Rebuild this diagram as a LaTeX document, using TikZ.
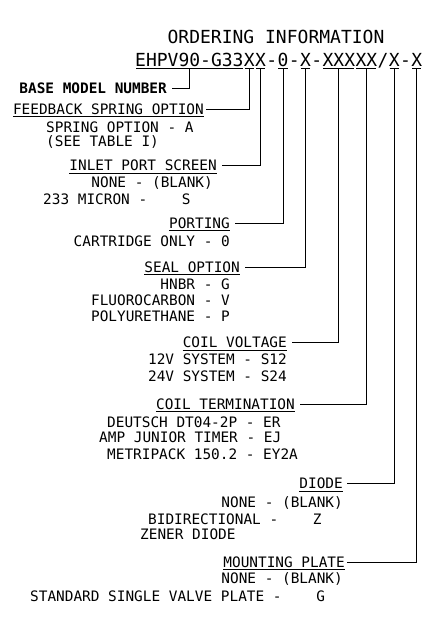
\documentclass[tikz,border=0pt]{standalone}
\usepackage{fontspec}
\setmainfont{DejaVu Sans Mono}
\usepackage{tikz}
\usetikzlibrary{positioning}

\begin{document}
\begin{tikzpicture}[
        x=1pt, y=-1pt,
        font=\fontsize{14.4}{16}\selectfont,
        code/.style={inner sep=0pt, text height=15.6pt, text depth=2.5pt, font=\fontsize{18}{20}\selectfont},
        head/.style={inner sep=0pt, text height=12.5pt, text depth=2pt, anchor=east},
        opt/.style={inner sep=0pt},
        lead/.style={line width=0.9pt},
        uline/.style={line width=0.9pt, shorten <=1pt, shorten >=1pt}
    ]
        \useasboundingbox (0,0) rectangle (439,632);

        \node[opt, anchor=base, font=\fontsize{18}{20}\selectfont] (title) at (276,43) {ORDERING~INFORMATION};

        % model number, one node per field
        \node[code, anchor=base west] (m0) at (135,66) {EHPV90-G33};
        \node[code, right=0pt of m0] (m1) {X};
        \node[code, right=0pt of m1] (m2) {X};
        \node[code, right=0pt of m2] (s1) {-};
        \node[code, right=0pt of s1] (m3) {0};
        \node[code, right=0pt of m3] (s2) {-};
        \node[code, right=0pt of s2] (m4) {X};
        \node[code, right=0pt of m4] (s3) {-};
        \node[code, right=0pt of s3] (m5) {XXX};
        \node[code, right=0pt of m5] (m6) {XX};
        \node[code, right=0pt of m6] (s4) {/};
        \node[code, right=0pt of s4] (m7) {X};
        \node[code, right=0pt of m7] (s5) {-};
        \node[code, right=0pt of s5] (m8) {X};

        \draw[uline] (m0.south west) -- (m0.south east);
        \draw[uline] (m1.south west) -- (m1.south east);
        \draw[uline] (m2.south west) -- (m2.south east);
        \draw[uline] (m3.south west) -- (m3.south east);
        \draw[uline] (m4.south west) -- (m4.south east);
        \draw[uline] (m5.south west) -- (m5.south east);
        \draw[uline] (m6.south west) -- (m6.south east);
        \draw[uline] (m7.south west) -- (m7.south east);
        \draw[uline] (m8.south west) -- (m8.south east);

        % field headings
        \node[head, font=\fontsize{14.4}{16}\selectfont\bfseries] (base) at (167,88) {BASE~MODEL~NUMBER};
        \node[head] (fb) at (204,109) {FEEDBACK~SPRING~OPTION};
        \node[head] (ips) at (217,165.5) {INLET~PORT~SCREEN};
        \node[head] (port) at (230,223) {PORTING};
        \node[head] (seal) at (240,267) {SEAL~OPTION};
        \node[head] (cv) at (287,342.5) {COIL~VOLTAGE};
        \node[head] (ct) at (295,404) {COIL~TERMINATION};
        \node[head] (dio) at (343,483.5) {DIODE};
        \node[head] (mp) at (345,562) {MOUNTING~PLATE};

        \draw[lead] (fb.south west) -- (fb.south east);
        \draw[lead] (ips.south west) -- (ips.south east);
        \draw[lead] (port.south west) -- (port.south east);
        \draw[lead] (seal.south west) -- (seal.south east);
        \draw[lead] (cv.south west) -- (cv.south east);
        \draw[lead] (ct.south west) -- (ct.south east);
        \draw[lead] (dio.south west) -- (dio.south east);
        \draw[lead] (mp.south west) -- (mp.south east);

        % options
        \node[opt, anchor=base west] (fb1) at (46,132.2) {SPRING~OPTION~-~A};
        \node[opt, anchor=base west] (fb2) at (46,146.2) {(SEE~TABLE~I)};
        \node[opt, anchor=base east] (ips1) at (213,187.2) {NONE~-~(BLANK)};
        \node[opt, anchor=base west] (ips2) at (43,204.2) {233~MICRON~-~~~~S};
        \node[opt, anchor=base east] (port1) at (230,246) {CARTRIDGE~ONLY~-~0};
        \node[opt, anchor=base east] (seal1) at (230,289.2) {HNBR~-~G};
        \node[opt, anchor=base east] (seal2) at (230,305.2) {FLUOROCARBON~-~V};
        \node[opt, anchor=base east] (seal3) at (230,321.2) {POLYURETHANE~-~P};
        \node[opt, anchor=base east] (cv1) at (287,364.8) {12V~SYSTEM~-~S12};
        \node[opt, anchor=base east] (cv2) at (287,381.2) {24V~SYSTEM~-~S24};
        \node[opt, anchor=base west] (ct1) at (107,427.8) {DEUTSCH~DT04-2P~-~ER};
        \node[opt, anchor=base west] (ct2) at (99,442.8) {AMP~JUNIOR~TIMER~-~EJ};
        \node[opt, anchor=base west] (ct3) at (107,459.2) {METRIPACK~150.2~-~EY2A};
        \node[opt, anchor=base east] (dio1) at (343,507.2) {NONE~-~(BLANK)};
        \node[opt, anchor=base west] (dio2) at (148,524.2) {BIDIRECTIONAL~-~~~~Z};
        \node[opt, anchor=base west] (dio3) at (140,539.2) {ZENER~DIODE};
        \node[opt, anchor=base east] (mp1) at (343,583.2) {NONE~-~(BLANK)};
        \node[opt, anchor=base west] (mp2) at (30,601.2) {STANDARD~SINGLE~VALVE~PLATE~-~~~~G};

        % leaders up to the model number
        \draw[lead] ([xshift=5pt]base.east) -| (m0.south);
        \draw[lead] ([xshift=2pt]fb.east) -| (m1.south);
        \draw[lead] ([xshift=5pt]ips.east) -| (m2.south);
        \draw[lead] ([xshift=5pt]port.east) -| (m3.south);
        \draw[lead] ([xshift=5pt]seal.east) -| (m4.south);
        \draw[lead] ([xshift=5pt]cv.east) -| (m5.south);
        \draw[lead] ([xshift=5pt]ct.east) -| (m6.south);
        \draw[lead] ([xshift=4pt]dio.east) -| (m7.south);
        \draw[lead] ([xshift=2pt]mp.east) -| (m8.south);
    \end{tikzpicture}
\end{document}
